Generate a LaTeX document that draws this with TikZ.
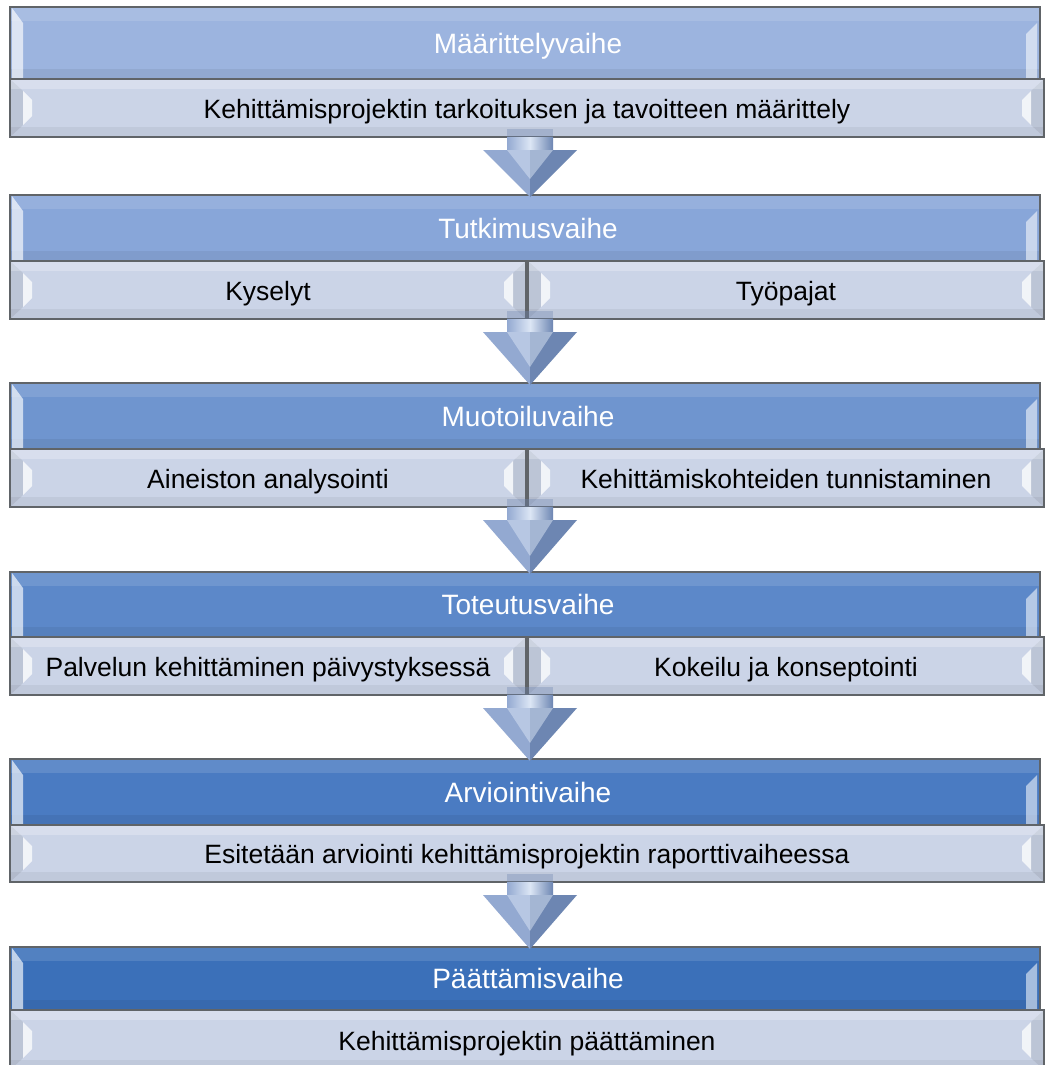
\documentclass[tikz,border=0pt]{standalone}
\usepackage{fontspec}
\setmainfont{Liberation Sans}
\definecolor{hA}{HTML}{9CB4DF}
\definecolor{hB}{HTML}{88A6D9}
\definecolor{hC}{HTML}{6F95CF}
\definecolor{hD}{HTML}{5C88C9}
\definecolor{hE}{HTML}{4A7BC2}
\definecolor{hF}{HTML}{3B70B9}
\definecolor{subfill}{HTML}{CBD4E7}
\definecolor{edge}{HTML}{606468}
\definecolor{arrL}{HTML}{93A9D1}
\definecolor{arrR}{HTML}{6D86B2}
\definecolor{arrHi}{HTML}{DCE6F5}
\tikzset{
  htext/.style={text=white,font=\fontsize{28}{32}\selectfont,inner sep=0pt,anchor=base},
  stext/.style={text=black,font=\fontsize{26.5}{30}\selectfont,inner sep=0pt,anchor=base},
  boxedge/.style={draw=edge,line width=1.2pt},
}
\newcommand\hdr[5]{% name, top, bottom, colour, text
  \fill[#4] (10,#2) rectangle (1040,#3);
  \fill[white,opacity=0.12] (10,#2) rectangle (1040,{#2+14});
  \fill[black,opacity=0.06] (10,{#3-10}) rectangle (1040,#3);
  \fill[white,opacity=0.65] (12,{#2+1}) -- (23,{#2+16}) -- (23,#3) -- (12,#3) -- cycle;
  \fill[white,opacity=0.55] (1037,{#2+16}) -- (1026,{#2+27}) -- (1026,#3) -- (1037,#3) -- cycle;
  \draw[boxedge] (10,#2) rectangle (1040,#3);
  \node[htext] (#1) at (528,{(#2+#3)/2+10}) {#5};
}
\newcommand\sbx[6]{% name, x1, x2, top, bottom, text
  \fill[subfill] (#2,#4) rectangle (#3,#5);
  \fill[black,opacity=0.07] (#2,#4) -- ({#2+13},{#4+12}) -- ({#2+13},{#5-12}) -- (#2,#5) -- cycle;
  \fill[black,opacity=0.07] (#3,#4) -- ({#3-13},{#4+12}) -- ({#3-13},{#5-12}) -- (#3,#5) -- cycle;
  \fill[white,opacity=0.25] (#2,#4) rectangle (#3,{#4+10});
  \fill[black,opacity=0.05] (#2,{#5-10}) rectangle (#3,#5);
  \fill[white,opacity=0.75] ({#2+13},{#4+12}) -- ({#2+22},{#4+21}) -- ({#2+22},{#5-21}) -- ({#2+13},{#5-12}) -- cycle;
  \fill[white,opacity=0.75] ({#3-13},{#4+12}) -- ({#3-22},{#4+21}) -- ({#3-22},{#5-21}) -- ({#3-13},{#5-12}) -- cycle;
  \draw[boxedge] (#2,#4) rectangle (#3,#5);
  \node[stext] (#1) at ({(#2+#3)/2},{(#4+#5)/2+10}) {#6};
}
\newcommand\arr[3]{% name, sub bottom, tip
  \fill[arrR,opacity=0.35] (507,{#2-8}) rectangle (553,#2);
  \shade[left color=arrL,right color=arrR,middle color=arrHi] (507,#2) rectangle (553,{#2+14});
  \fill[arrL] (483,{#2+13}) -- (530,{#2+13}) -- (530,#3) -- cycle;
  \fill[arrR] (577,{#2+13}) -- (530,{#2+13}) -- (530,#3) -- cycle;
  \fill[arrHi,opacity=0.5] (507,{#2+13}) -- (553,{#2+13}) -- (530,{#3-18}) -- cycle;
  \coordinate (#1) at (530,#3);
}
\begin{document}
\begin{tikzpicture}[x=1pt,y=-1pt]
\useasboundingbox (0,0) rectangle (1046,1065);
\fill[white] (0,0) rectangle (1046,1065);
% stage 1
\hdr{h1}{7}{79}{hA}{Määrittelyvaihe}
\sbx{s1}{10}{1044}{79}{137}{Kehittämisprojektin tarkoituksen ja tavoitteen määrittely}
% stage 2
\hdr{h2}{195}{261}{hB}{Tutkimusvaihe}
\sbx{s2a}{10}{526}{261}{319}{Kyselyt}
\sbx{s2b}{528}{1044}{261}{319}{Työpajat}
% stage 3
\hdr{h3}{383}{449}{hC}{Muotoiluvaihe}
\sbx{s3a}{10}{526}{449}{507}{Aineiston analysointi}
\sbx{s3b}{528}{1044}{449}{507}{Kehittämiskohteiden tunnistaminen}
% stage 4
\hdr{h4}{572}{637}{hD}{Toteutusvaihe}
\sbx{s4a}{10}{526}{637}{695}{Palvelun kehittäminen päivystyksessä}
\sbx{s4b}{528}{1044}{637}{695}{Kokeilu ja konseptointi}
% stage 5
\hdr{h5}{759}{825}{hE}{Arviointivaihe}
\sbx{s5}{10}{1044}{825}{882}{Esitetään arviointi kehittämisprojektin raporttivaiheessa}
% stage 6
\hdr{h6}{947}{1010}{hF}{Päättämisvaihe}
\sbx{s6}{10}{1044}{1010}{1070}{Kehittämisprojektin päättäminen}
% arrows
\arr{a1}{137}{197}
\arr{a2}{319}{385}
\arr{a3}{507}{574}
\arr{a4}{695}{761}
\arr{a5}{882}{949}
\end{tikzpicture}
\end{document}
